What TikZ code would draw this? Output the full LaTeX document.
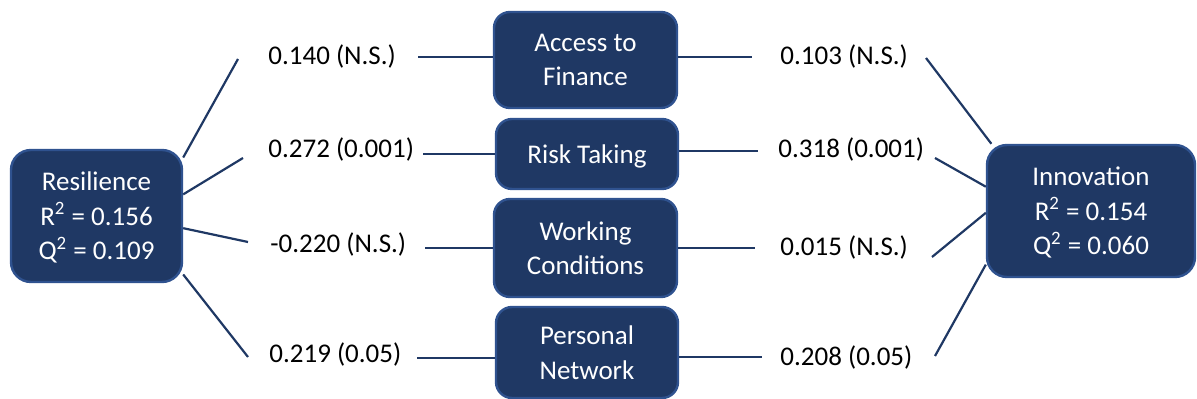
\documentclass[tikz,border=0pt]{standalone}
\usepackage{fontspec}
\setmainfont{Carlito}
\definecolor{navy}{RGB}{31,56,100}
\definecolor{rim}{RGB}{47,82,143}
\tikzset{
  construct/.style={draw=rim, line width=1.2pt, fill=navy, text=white, align=center,
    inner sep=0pt, rounded corners=8pt, text depth=-4pt,
    font=\fontsize{13.5}{17.2}\selectfont},
  coef/.style={anchor=west, inner sep=0pt, font=\fontsize{13.5}{16.5}\selectfont},
  link/.style={draw=navy, line width=1.1pt}
}
\begin{document}
\begin{tikzpicture}[x=0.5pt, y=-0.5pt]
\useasboundingbox (0,0) rectangle (1197,399);
% outer constructs
\node[construct, minimum width=85.5pt, minimum height=66pt, rounded corners=10pt] (res) at (96.5,216)
  {Resilience\\R\textsuperscript{2} = 0.156\\Q\textsuperscript{2} = 0.109};
\node[construct, minimum width=104pt, minimum height=66pt, rounded corners=10pt] (inn) at (1091,211)
  {Innovation\\R\textsuperscript{2} = 0.154\\Q\textsuperscript{2} = 0.060};
% mediators
\node[construct, minimum width=91.5pt, minimum height=48pt]   (acc)  at (585.5,60)  {Access to\\Finance};
\node[construct, minimum width=91pt,   minimum height=35pt]   (risk) at (587,154)   {Risk Taking};
\node[construct, minimum width=91.5pt, minimum height=49pt]   (work) at (585.5,248) {Working\\Conditions};
\node[construct, minimum width=91pt,   minimum height=45.5pt] (pers) at (587,352.5) {Personal\\Network};
% path coefficients
\node[coef] (l1) at (268,57)  {0.140 (N.S.)};
\node[coef] (l2) at (268,150) {0.272 (0.001)};
\node[coef] (l3) at (270,245) {-0.220 (N.S.)};
\node[coef] (l4) at (269,355) {0.219 (0.05)};
\node[coef] (r1) at (780,57)  {0.103 (N.S.)};
\node[coef] (r2) at (778,150) {0.318 (0.001)};
\node[coef] (r3) at (780,248) {0.015 (N.S.)};
\node[coef] (r4) at (780,357) {0.208 (0.05)};
% free ends of the links
\coordinate (e1) at (238,59);
\coordinate (e2) at (243,158);
\coordinate (e3) at (248,242);
\coordinate (e4) at (248,357);
\coordinate (a1) at (418,57);
\coordinate (a2) at (423,154);
\coordinate (a3) at (425,248);
\coordinate (a4) at (417,358);
\coordinate (b1) at (752,57);
\coordinate (b2) at (758,151);
\coordinate (b3) at (755,248);
\coordinate (b4) at (762,357);
\coordinate (f1) at (926,58);
\coordinate (f2) at (935,158);
\coordinate (f3) at (932,257);
\coordinate (f4) at (935,356);
% resilience to the labels
\draw[link] (res.34)  -- (e1);
\draw[link] (res.14)  -- (e2);
\draw[link] (res.-8)  -- (e3);
\draw[link] (res.-34) -- (e4);
% labels into the mediators
\draw[link] (a1) -- (a1 -| acc.west);
\draw[link] (a2) -- (a2 -| risk.west);
\draw[link] (a3) -- (a3 -| work.west);
\draw[link] (a4) -- (a4 -| pers.west);
% mediators out to the labels
\draw[link] (b1 -| acc.east)  -- (b1);
\draw[link] (b2 -| risk.east) -- (b2);
\draw[link] (b3 -| work.east) -- (b3);
\draw[link] (b4 -| pers.east) -- (b4);
% labels to innovation
\draw[link] (f1) -- (inn.146);
\draw[link] (f2) -- (inn.167);
\draw[link] (f3) -- (inn.181);
\draw[link] (f4) -- (inn.207);
\end{tikzpicture}
\end{document}
